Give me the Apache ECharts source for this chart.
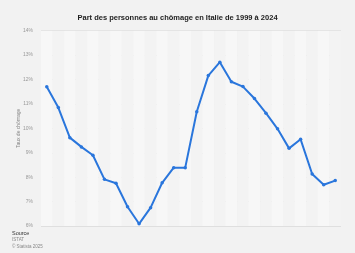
<!DOCTYPE html>
<html><head><meta charset="utf-8">
<script src="https://cdn.jsdelivr.net/npm/echarts@6/dist/echarts.min.js"></script>
<style>html,body{margin:0;padding:0;background:#f2f2f2}#c{width:355px;height:253px}</style>
</head><body><div id="c"></div>
<script>
var years = ['1999','2000','2001','2002','2003','2004','2005','2006','2007','2008','2009','2010','2011','2012','2013','2014','2015','2016','2017','2018','2019','2020','2021','2022','2023','2024'];
var rates = [11.7,10.85,9.62,9.24,8.9,7.91,7.75,6.79,6.09,6.75,7.77,8.39,8.39,10.68,12.16,12.71,11.91,11.71,11.22,10.62,9.98,9.18,9.55,8.13,7.69,7.86];
var yTicks = [6,7,8,9,10,11,12,13,14];
var chart = echarts.init(document.getElementById('c'));
chart.setOption({
  backgroundColor:'#f2f2f2',
  animation:false,
  title:{text:'Part des personnes au chômage en Italie de 1999 à 2024',left:'center',top:9,
    textStyle:{fontSize:7.5,fontWeight:'bold',color:'#222',fontFamily:'Liberation Sans, Arial'}},
  grid:{left:41,right:14,top:30.7,bottom:27},
  xAxis:{type:'category',data:years,boundaryGap:true,
    axisLine:{show:false},axisTick:{show:false},axisLabel:{show:false,interval:0},
    splitArea:{show:true,interval:0,areaStyle:{color:['#f7f7f7','#f3f3f3']}}},
  yAxis:{type:'value',min:yTicks[0],max:yTicks[yTicks.length-1],interval:1,
    name:'Taux de chômage',nameLocation:'middle',nameGap:20,nameMoveOverlap:false,
    nameTextStyle:{fontSize:5,color:'#888',fontFamily:'Liberation Sans, Arial'},
    axisLabel:{formatter:'{value}%',fontSize:5,color:'#999',margin:8,fontFamily:'Liberation Sans, Arial'},
    axisLine:{show:false},axisTick:{show:false},
    splitLine:{lineStyle:{color:'#d9d9d9',width:0.8}}},
  graphic:[
    {type:'text',left:12,top:230,style:{text:'Source',fontSize:5.5,fill:'#333',fontFamily:'Liberation Sans, Arial'}},
    {type:'text',left:12,top:237,style:{text:'ISTAT',fontSize:4.5,fill:'#888',fontFamily:'Liberation Sans, Arial'}},
    {type:'text',left:12,top:244,style:{text:'© Statista 2025',fontSize:4.5,fill:'#888',fontFamily:'Liberation Sans, Arial'}}
  ],
  series:[{type:'line',data:rates,symbol:'circle',symbolSize:3.5,
    lineStyle:{color:'#2a76dc',width:2},itemStyle:{color:'#2a76dc'}}]
});
</script></body></html>
